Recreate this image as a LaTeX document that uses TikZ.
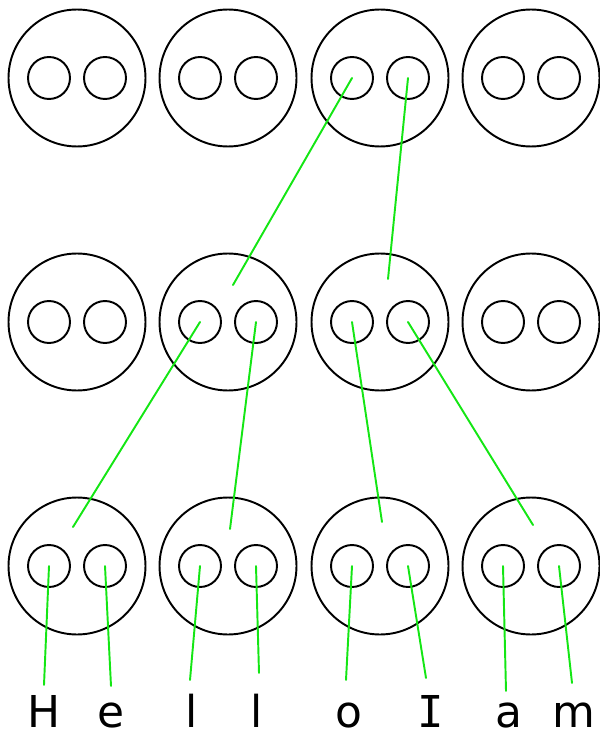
\documentclass[tikz,border=0pt]{standalone}
\usepackage{fontspec}
\setmainfont{DejaVu Sans}
\newfontfamily\monofont{DejaVu Sans Mono}
\definecolor{wire}{RGB}{20,230,20}

\begin{document}
\begin{tikzpicture}[x=0.02cm,y=-0.02cm,
  big/.style={circle,draw,line width=1.1pt,minimum size=2.74cm,inner sep=0pt},
  small/.style={circle,draw,line width=1.1pt,minimum size=0.84cm,inner sep=0pt},
  link/.style={draw=wire,line width=1.1pt,line cap=round},
  letter/.style={anchor=base,inner sep=0pt,font=\fontsize{25}{30}\selectfont}]
\useasboundingbox (0,0) rectangle (599,736);

% three rows of four cells, two holes each
\foreach \r/\y in {1/78,2/322,3/566}
  \foreach \c/\x in {1/77,2/228,3/380,4/531} {
    \node[big] (b\r\c) at (\x,\y) {};
    \node[small] (l\r\c) at (\x-28,\y) {};
    \node[small] (r\r\c) at (\x+28,\y) {};
  }

% ends of the links inside the lower cells
\coordinate (t22) at (233,285);
\coordinate (t23) at (388,279);
\coordinate (t31) at (73,527);
\coordinate (t32) at (230,529);
\coordinate (t33) at (382,522);
\coordinate (t34) at (533,525);

\draw[link] (l13.center) -- (t22);
\draw[link] (r13.center) -- (t23);
\draw[link] (l22.center) -- (t31);
\draw[link] (r22.center) -- (t32);
\draw[link] (l23.center) -- (t33);
\draw[link] (r23.center) -- (t34);

% letters at the bottom
\node[letter] (H) at (44,727) {H};
\node[letter] (e) at (111,727) {e};
\node[letter] (l1) at (192,727) {l};
\node[letter] (l2) at (257,727) {l};
\node[letter] (o) at (349,727) {o};
\node[letter] (I) at (431,727) {\monofont I};
\node[letter] (a) at (509,727) {a};
\node[letter] (m) at (574,727) {m};

\coordinate (eH) at (44,685);
\coordinate (ee) at (111,686);
\coordinate (el1) at (190,680);
\coordinate (el2) at (259,673);
\coordinate (eo) at (346,680);
\coordinate (eI) at (426,678);
\coordinate (ea) at (506,691);
\coordinate (em) at (572,683);

\draw[link] (l31.center) -- (eH);
\draw[link] (r31.center) -- (ee);
\draw[link] (l32.center) -- (el1);
\draw[link] (r32.center) -- (el2);
\draw[link] (l33.center) -- (eo);
\draw[link] (r33.center) -- (eI);
\draw[link] (l34.center) -- (ea);
\draw[link] (r34.center) -- (em);
\end{tikzpicture}
\end{document}
